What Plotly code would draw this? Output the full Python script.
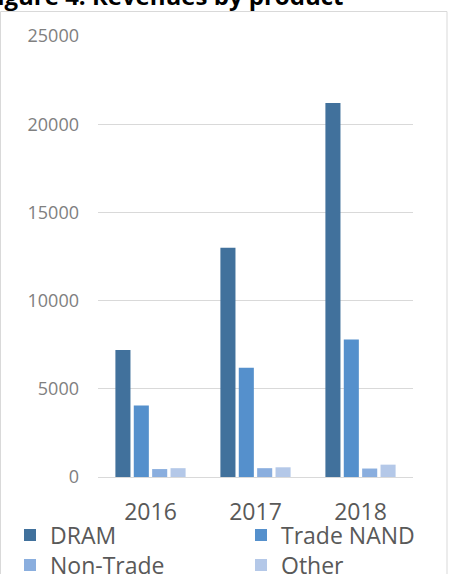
import plotly.graph_objects as go

years = ["2016", "2017", "2018"]
dram = [7200, 13000, 21200]
trade_nand = [4050, 6200, 7800]
non_trade = [450, 500, 480]
other = [500, 550, 700]

series = [
    ("DRAM", dram, "#41719C", "legend", 10, 535),
    ("Trade NAND", trade_nand, "#5590CC", "legend2", 241, 535),
    ("Non-Trade", non_trade, "#8AAEDE", "legend3", 10, 565),
    ("Other", other, "#B4C8E8", "legend4", 241, 565),
]

W, H = 449, 574
L, R, T, B = 98, 36, 36, 97
pw, ph = W - L - R, H - T - B

def px_x(p):
    return (p - L) / pw

def px_y(p):
    return (H - B - p) / ph

fig = go.Figure()
for name, vals, color, lg, _, _ in series:
    fig.add_trace(go.Bar(x=years, y=vals, name=name, marker_color=color,
                         marker_line_width=0, legend=lg))

font = "Open Sans, Noto Sans, sans-serif"
legends = {}
for name, _, _, lg, lx, ly in series:
    legends[lg] = dict(orientation="h", xanchor="left", yanchor="middle",
                       x=px_x(lx), y=px_y(ly),
                       font=dict(size=23, color="#595959"),
                       bgcolor="rgba(0,0,0,0)", itemclick=False, itemdoubleclick=False)

fig.update_layout(
    width=W, height=H,
    margin=dict(l=L, r=R, t=T, b=B, autoexpand=False),
    paper_bgcolor="white", plot_bgcolor="white",
    barmode="group", bargap=0.3, bargroupgap=0.18,
    font=dict(family=font, color="#595959"),
    showlegend=True,
    xaxis=dict(showgrid=False, showline=False, tickfont=dict(size=23, color="#595959"),
               ticks="", ticklabelstandoff=19, automargin=False),
    yaxis=dict(range=[0, 25000], dtick=5000, showgrid=True, gridcolor="#D9D9D9", gridwidth=1,
               zeroline=True, zerolinecolor="#D9D9D9", zerolinewidth=1,
               showline=False, ticks="", tickfont=dict(size=18, color="#808080"),
               ticklabelstandoff=18, tickformat="d", automargin=False),
    shapes=[dict(type="rect", xref="paper", yref="paper",
                 x0=px_x(0.5), x1=px_x(447), y0=px_y(590), y1=px_y(11.5),
                 line=dict(color="#D9D9D9", width=1), fillcolor="rgba(0,0,0,0)", layer="below")],
    annotations=[dict(text="<b>Figure 4: Revenues by product</b>", xref="paper", yref="paper",
                      x=px_x(-18), xanchor="left", y=px_y(-4), yanchor="middle",
                      showarrow=False, font=dict(size=24, color="black", family=font))],
    **legends,
)

fig.write_html("out.html")
